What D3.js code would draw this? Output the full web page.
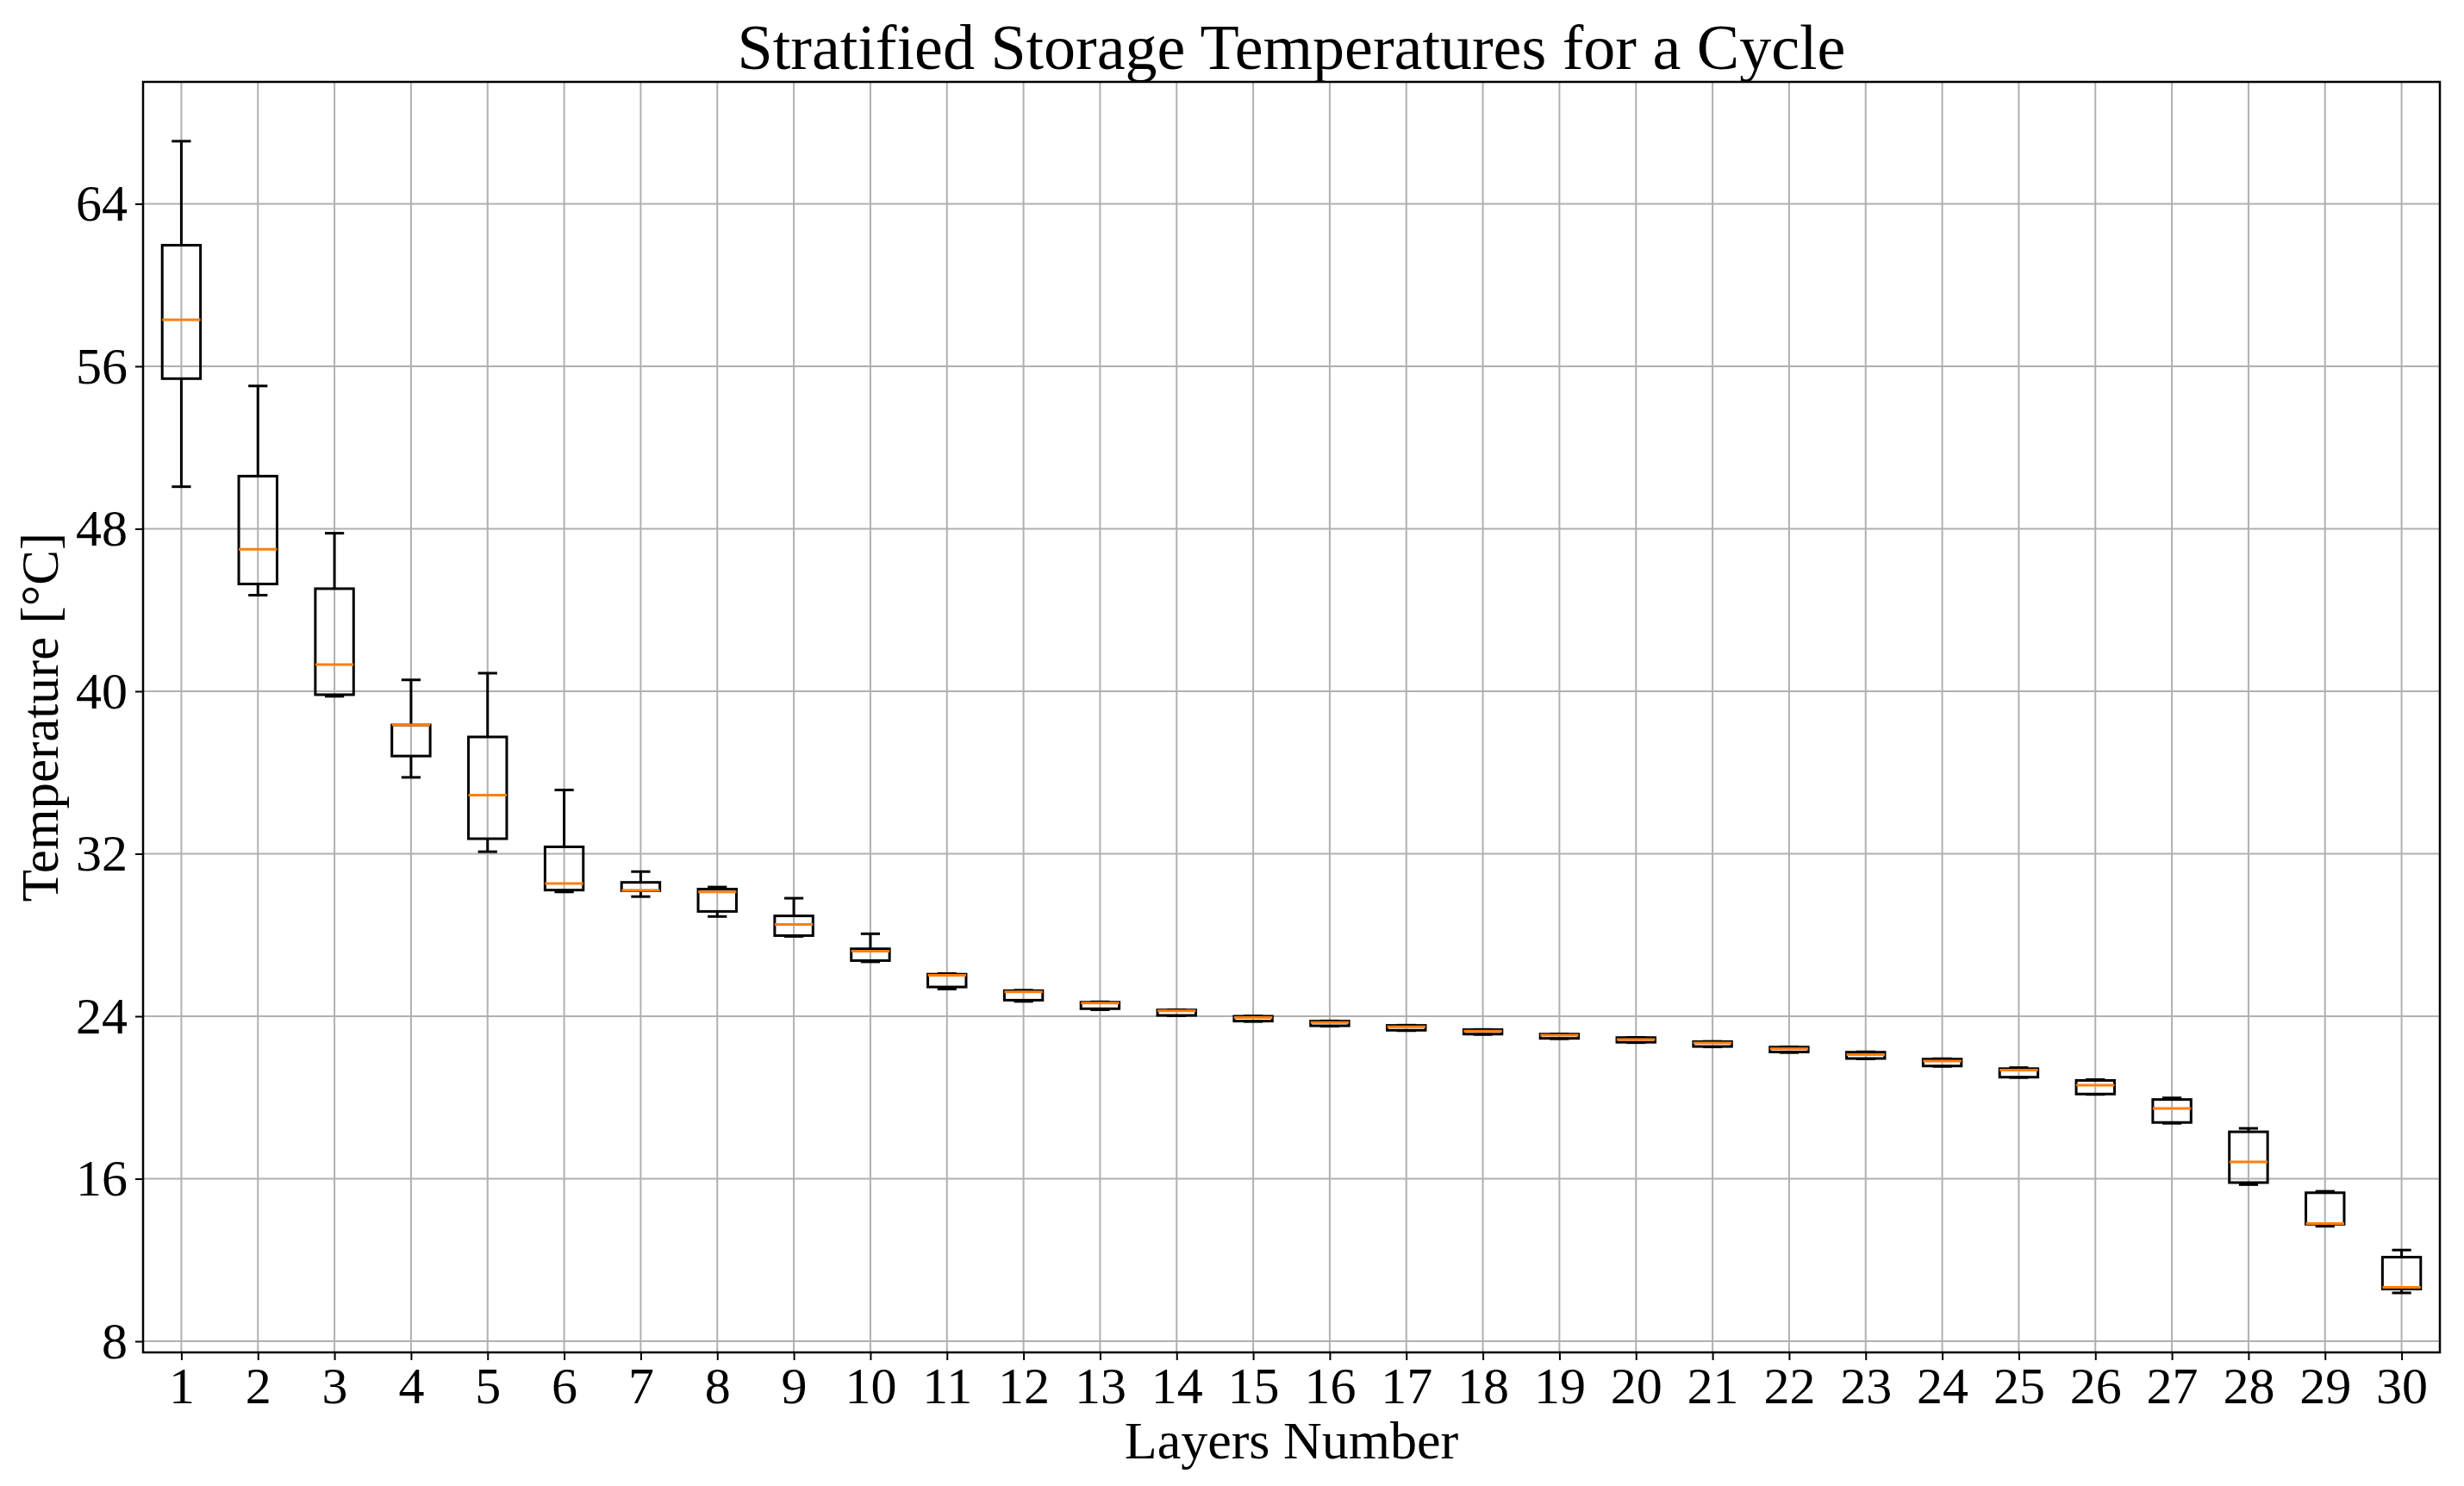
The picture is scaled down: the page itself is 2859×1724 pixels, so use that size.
<!DOCTYPE html>
<html>
<head>
<meta charset="utf-8">
<script src="https://cdn.jsdelivr.net/npm/d3@7"></script>
<style>
  body { margin: 0; background: #fff; }
  svg { display: block; }
</style>
</head>
<body>
<div id="chart"></div>
<script>
// Layer numbers and box statistics
const layers = d3.range(1, 31);
const whiskerLow = [50.07, 44.73, 39.75, 35.76, 32.10, 30.12, 29.89, 28.91, 27.93, 26.68,
  25.34, 24.73, 24.32, 24.02, 23.74, 23.51, 23.29, 23.10, 22.89, 22.70,
  22.49, 22.21, 21.90, 21.53, 20.98, 20.15, 18.73, 15.71, 13.66, 10.38];
const q1 = [55.39, 45.28, 39.83, 36.81, 32.74, 30.21, 30.18, 29.16, 27.97, 26.74,
  25.44, 24.79, 24.37, 24.04, 23.76, 23.53, 23.31, 23.12, 22.91, 22.72,
  22.51, 22.24, 21.92, 21.55, 21.00, 20.17, 18.77, 15.81, 13.76, 10.57];
const median = [58.29, 46.99, 41.31, 38.34, 34.88, 30.53, 30.20, 30.12, 28.52, 27.20,
  26.02, 25.20, 24.65, 24.27, 23.94, 23.69, 23.48, 23.27, 23.07, 22.85,
  22.68, 22.40, 22.11, 21.79, 21.35, 20.61, 19.46, 16.83, 13.79, 10.65];
const q3 = [61.96, 50.59, 45.05, 38.34, 37.75, 32.34, 30.59, 30.26, 28.94, 27.32,
  26.07, 25.26, 24.69, 24.31, 24.00, 23.76, 23.55, 23.34, 23.12, 22.95,
  22.75, 22.48, 22.23, 21.89, 21.42, 20.84, 19.90, 18.31, 15.31, 12.14];
const whiskerHigh = [67.08, 55.03, 47.78, 40.56, 40.89, 35.14, 31.12, 30.36, 29.81, 28.06,
  26.10, 25.28, 24.71, 24.32, 24.01, 23.77, 23.56, 23.35, 23.13, 22.96,
  22.76, 22.49, 22.25, 21.91, 21.47, 20.88, 19.98, 18.48, 15.38, 12.49];
const yTicks = [8, 16, 24, 32, 40, 48, 56, 64];

const width = 2859, height = 1724;
const margin = { top: 95, right: 28, bottom: 155, left: 166 };
const font = "'Liberation Serif', 'Times New Roman', serif";
const lw = 3;

const svg = d3.select("#chart").append("svg")
  .attr("width", width)
  .attr("height", height);

const x = d3.scaleLinear().domain([0.5, 30.5]).range([margin.left, width - margin.right]);
const y = d3.scaleLinear().domain([7.45, 70.0]).range([height - margin.bottom, margin.top]);

const boxes = layers.map((l, i) => ({
  layer: l, lo: whiskerLow[i], q1: q1[i], med: median[i], q3: q3[i], hi: whiskerHigh[i]
}));

// grid
const grid = svg.append("g");
grid.selectAll(".vg").data(layers).join("line")
  .attr("x1", d => x(d)).attr("x2", d => x(d))
  .attr("y1", y.range()[0]).attr("y2", y.range()[1])
  .attr("stroke", "#b0b0b0").attr("stroke-width", 2);
grid.selectAll(".hg").data(yTicks).join("line")
  .attr("x1", x.range()[0]).attr("x2", x.range()[1])
  .attr("y1", d => y(d)).attr("y2", d => y(d))
  .attr("stroke", "#b0b0b0").attr("stroke-width", 2);

// boxes (box width 0.5, caps half of that)
const halfBox = x(1.25) - x(1);
const halfCap = halfBox / 2;
const g = svg.append("g").attr("fill", "none");

g.selectAll(".wl").data(boxes).join("line")
  .attr("x1", d => x(d.layer)).attr("x2", d => x(d.layer))
  .attr("y1", d => y(d.lo)).attr("y2", d => y(d.q1))
  .attr("stroke", "#000").attr("stroke-width", lw);
g.selectAll(".wh").data(boxes).join("line")
  .attr("x1", d => x(d.layer)).attr("x2", d => x(d.layer))
  .attr("y1", d => y(d.q3)).attr("y2", d => y(d.hi))
  .attr("stroke", "#000").attr("stroke-width", lw);
g.selectAll(".cl").data(boxes).join("line")
  .attr("x1", d => x(d.layer) - halfCap).attr("x2", d => x(d.layer) + halfCap)
  .attr("y1", d => y(d.lo)).attr("y2", d => y(d.lo))
  .attr("stroke", "#000").attr("stroke-width", lw);
g.selectAll(".ch").data(boxes).join("line")
  .attr("x1", d => x(d.layer) - halfCap).attr("x2", d => x(d.layer) + halfCap)
  .attr("y1", d => y(d.hi)).attr("y2", d => y(d.hi))
  .attr("stroke", "#000").attr("stroke-width", lw);
g.selectAll(".bx").data(boxes).join("rect")
  .attr("x", d => x(d.layer) - halfBox)
  .attr("width", halfBox * 2)
  .attr("y", d => y(d.q3))
  .attr("height", d => Math.max(0.5, y(d.q1) - y(d.q3)))
  .attr("stroke", "#000").attr("stroke-width", lw);
g.selectAll(".md").data(boxes).join("line")
  .attr("x1", d => x(d.layer) - halfBox).attr("x2", d => x(d.layer) + halfBox)
  .attr("y1", d => y(d.med)).attr("y2", d => y(d.med))
  .attr("stroke", "#ff7f0e").attr("stroke-width", lw);

// axes
const xAxis = svg.append("g")
  .attr("transform", `translate(0,${height - margin.bottom})`)
  .call(d3.axisBottom(x).tickValues(layers).tickFormat(d3.format("d")).tickSize(9).tickPadding(7));
const yAxis = svg.append("g")
  .attr("transform", `translate(${margin.left},0)`)
  .call(d3.axisLeft(y).tickValues(yTicks).tickSize(9).tickPadding(9));

[xAxis, yAxis].forEach(a => {
  a.select(".domain").remove();
  a.selectAll(".tick line").attr("stroke", "#000").attr("stroke-width", 2);
  a.selectAll(".tick text")
    .style("font-family", font).style("font-size", "60px").attr("fill", "#000");
});

// frame
svg.append("rect")
  .attr("x", x.range()[0]).attr("y", y.range()[1])
  .attr("width", x.range()[1] - x.range()[0])
  .attr("height", y.range()[0] - y.range()[1])
  .attr("fill", "none").attr("stroke", "#000").attr("stroke-width", 2.5);

// labels
svg.append("text")
  .attr("x", (x.range()[0] + x.range()[1]) / 2)
  .attr("y", 80)
  .attr("text-anchor", "middle")
  .style("font-family", font).style("font-size", "74px")
  .text("Stratified Storage Temperatures for a Cycle");

svg.append("text")
  .attr("x", (x.range()[0] + x.range()[1]) / 2)
  .attr("y", 1692)
  .attr("text-anchor", "middle")
  .style("font-family", font).style("font-size", "62px")
  .text("Layers Number");

svg.append("text")
  .attr("transform", `translate(67,${(y.range()[0] + y.range()[1]) / 2}) rotate(-90)`)
  .attr("text-anchor", "middle")
  .style("font-family", font).style("font-size", "61px")
  .text("Temperature [°C]");
</script>
</body>
</html>
